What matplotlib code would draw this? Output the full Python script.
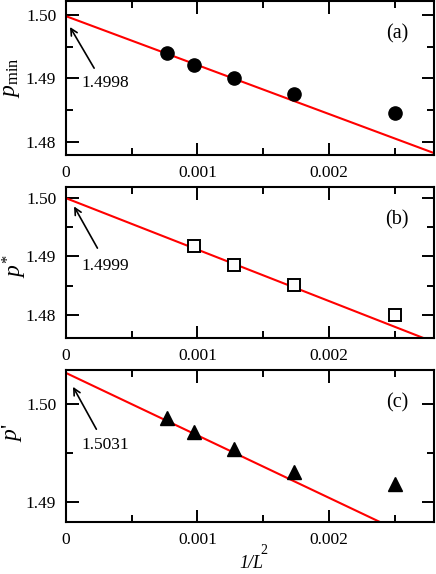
import numpy as np
import matplotlib
matplotlib.use('Agg')
from matplotlib import pyplot as plt
from matplotlib.ticker import FixedLocator

plt.rcParams['font.family'] = ['Liberation Serif', 'DejaVu Serif']
plt.rcParams['mathtext.fontset'] = 'custom'
plt.rcParams['mathtext.rm'] = 'Liberation Serif'
plt.rcParams['mathtext.it'] = 'Liberation Serif:italic'
plt.rcParams['mathtext.bf'] = 'Liberation Serif:bold'

# data: 1/L^2 for L = 36, 32, 28, 24, 20
inv_L2 = [0.000772, 0.000977, 0.001276, 0.001736, 0.0025]
p_min = [1.4940, 1.4921, 1.4900, 1.4876, 1.4845]
p_star_x = [0.000977, 0.001276, 0.001736, 0.0025]
p_star = [1.4917, 1.4886, 1.4851, 1.4800]
p_prime = [1.4985, 1.4971, 1.4954, 1.4931, 1.4918]

# linear fits (intercept at 1/L^2 = 0, value at 1/L^2 = 0.0028)
fit_x = [0.0, 0.0028]
fit_a = [1.4998, 1.4782]
fit_b = [1.4999, 1.4754]
fit_c = [1.5031, 1.4854]

labels = ['1.4998', '1.4999', '1.5031']

W, H = 436, 574
fig = plt.figure(figsize=(W / 100, H / 100), dpi=100)
ax_a = fig.add_axes([0.1514, 0.7300, 0.8440, 0.2683])
ax_b = fig.add_axes([0.1514, 0.4111, 0.8440, 0.2631])
ax_c = fig.add_axes([0.1514, 0.0906, 0.8440, 0.2648])


def style(ax, ylim, yticks, yminor):
    ax.set_xlim(0, 0.0028)
    ax.set_ylim(*ylim)
    ax.xaxis.set_major_locator(FixedLocator([0, 0.001, 0.002]))
    ax.xaxis.set_minor_locator(FixedLocator([0.0005, 0.0015, 0.0025]))
    ax.set_xticklabels(['0', '0.001', '0.002'])
    ax.yaxis.set_major_locator(FixedLocator(yticks))
    ax.yaxis.set_minor_locator(FixedLocator(yminor))
    ax.set_yticklabels(['%.2f' % v for v in yticks])
    ax.tick_params(which='both', direction='in', top=True, right=True, width=1.4, labelsize=12.5)
    ax.tick_params(which='major', length=9, pad=7)
    ax.tick_params(which='minor', length=5)
    for s in ax.spines.values():
        s.set_linewidth(1.5)


style(ax_a, (1.4779, 1.5022), [1.48, 1.49, 1.50], [1.485, 1.495])
style(ax_b, (1.4761, 1.5018), [1.48, 1.49, 1.50], [1.485, 1.495])
style(ax_c, (1.4880, 1.5034), [1.49, 1.50], [1.495])

ax_a.plot(fit_x, fit_a, color='red', lw=1.5, zorder=2)
ax_a.plot(inv_L2, p_min, 'o', color='black', ms=9.5, zorder=3)

ax_b.plot(fit_x, fit_b, color='red', lw=1.5, zorder=2)
ax_b.plot(p_star_x, p_star, 's', mfc='white', mec='black', mew=1.4, ms=8.5, zorder=3)

ax_c.plot(fit_x, fit_c, color='red', lw=1.5, zorder=2)
ax_c.plot(inv_L2, p_prime, '^', color='black', ms=10, zorder=3)

# y labels, placed in pixel positions of the reference
fig.text(12 / W, 1 - 78 / H, r'$p_{\rm min}$', fontsize=17, rotation=90, ha='center', va='center')
fig.text(15 / W, 1 - 266 / H, r'$p^{\mathrm{*}}$', fontsize=17, rotation=90, ha='center', va='center')
fig.text(12 / W, 1 - 433 / H, r"$p$'", fontsize=17, rotation=90, ha='center', va='center')

# x label 1/L^2 (all italic)
fig.text(239 / W, 1 - 568 / H, '1/L', fontsize=13, style='italic', ha='left', va='baseline')
fig.text(260 / W, 1 - 554 / H, '2', fontsize=10, ha='left', va='baseline')

# arrows + intercept labels
arrows = [
    (ax_a, (0.00003, 1.4981), (0.000214, 1.4916), 1.4893),
    (ax_b, (0.000061, 1.4985), (0.000239, 1.4914), 1.4884),
    (ax_c, (0.000053, 1.5017), (0.000231, 1.4974), 1.4958),
]
for (ax, head, tail, ty), lab in zip(arrows, labels):
    ax.annotate('', xy=head, xytext=tail,
                arrowprops=dict(arrowstyle='->', color='black', lw=1.2,
                                mutation_scale=12, shrinkA=0, shrinkB=0))
    ax.text(0.000115, ty, lab, fontsize=12.5, ha='left', va='center')

for ax, t in zip([ax_a, ax_b, ax_c], ['(a)', '(b)', '(c)']):
    ax.text(0.9, 0.785, t, transform=ax.transAxes, fontsize=14.5, ha='center', va='center')

fig.savefig('out.png', dpi=100)
